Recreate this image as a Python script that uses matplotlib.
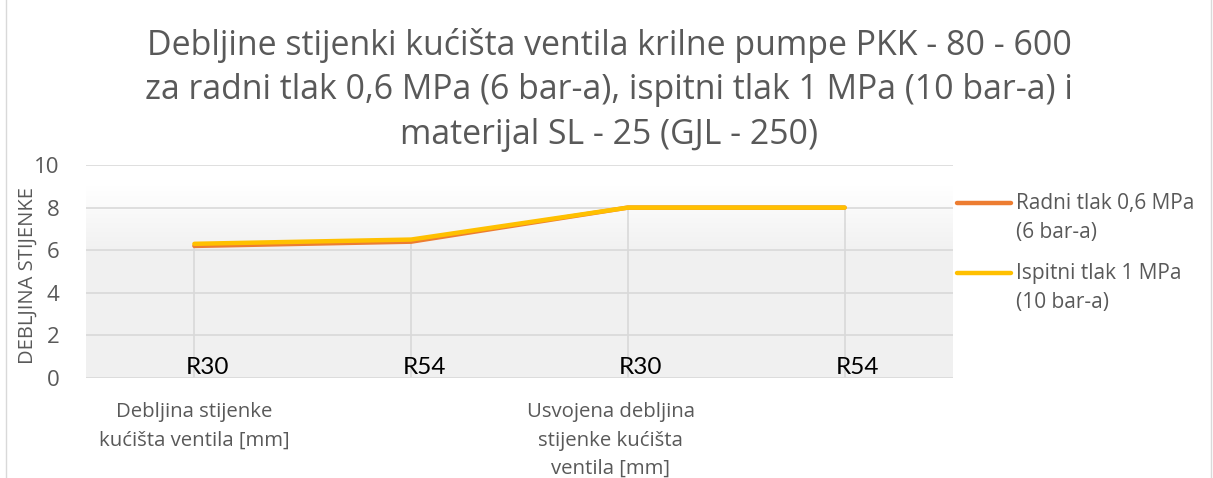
import matplotlib
matplotlib.use("Agg")
import matplotlib.pyplot as plt
import numpy as np
from matplotlib.lines import Line2D

categories = ["R30", "R54", "R30", "R54"]
groups = ["Debljina stijenke\nkućišta ventila [mm]", "Usvojena debljina\nstijenke kućišta\nventila [mm]"]
radni = [6.2, 6.4, 8.0, 8.0]
ispitni = [6.3, 6.5, 8.0, 8.0]
series_names = ["Radni tlak 0,6 MPa\n(6 bar-a)", "Ispitni tlak 1 MPa\n(10 bar-a)"]
yticks = [0, 2, 4, 6, 8, 10]
title = ("Debljine stijenki kućišta ventila krilne pumpe PKK - 80 - 600\n"
         "za radni tlak 0,6 MPa (6 bar-a), ispitni tlak 1 MPa (10 bar-a) i\n"
         "materijal SL - 25 (GJL - 250)")

plt.rcParams['font.family'] = ['Open Sans', 'DejaVu Sans']
gray = "#595959"
W, H = 1213, 478
fig = plt.figure(figsize=(W/100, H/100), dpi=100)

# chart border
fig.add_artist(Line2D([6/W, 6/W], [0, 1], color="#d9d9d9", lw=1))
fig.add_artist(Line2D([1211/W, 1211/W], [0, 1], color="#d9d9d9", lw=1))

ax = fig.add_axes([86/W, 1-378/H, 867/W, 213/H])
x = np.arange(len(categories)) + 0.5
ax.set_xlim(0, len(categories))
ax.set_ylim(0, 10)

# gradient background
grad = np.linspace(0, 1, 200)
t = np.clip((grad - 0.6) / 0.3, 0, 1)  # 0 bottom .. 1 top
vals = 0.945 + (1.0 - 0.945) * t
img = np.dstack([vals, vals, vals]).reshape(200, 1, 3)
ax.imshow(img, origin="lower", extent=[0, len(categories), 0, 10], aspect="auto", zorder=0)

for s in ax.spines.values():
    s.set_visible(False)
for yv in yticks:
    ax.axhline(yv, color="#d9d9d9", lw=1.2, zorder=1)
ax.vlines(x, 0, np.maximum(radni, ispitni), color="#d9d9d9", lw=1.2, zorder=1)

ax.plot(x, radni, color="#ED7D31", lw=3.2, zorder=3, solid_capstyle="round")
ax.plot(x, ispitni, color="#FFC000", lw=3.2, zorder=4, solid_capstyle="round")

ax.set_yticks(yticks)
ax.set_yticklabels([str(v) for v in yticks], fontsize=16, color=gray)
ax.tick_params(axis="y", length=0, pad=19)
ax.set_xticks([])
ax.set_ylabel("DEBLJINA STIJENKE", fontsize=14.5, color=gray, labelpad=0)
ax.yaxis.set_label_coords(-48/867, 0.48)

for xi, c in zip(x, categories):
    ax.text(xi + 0.06, 0.0, c, ha="center", va="bottom", fontsize=17.5, color="black",
            family=["Lato", "DejaVu Sans"], zorder=5)

group_x = [0.5, 2.42]
for gx, g in zip(group_x, groups):
    ax.text(gx, -1.15, g, ha="center", va="top", fontsize=14.7, color=gray, linespacing=1.55)

fig.text(609/W, 1-28/H, title, ha="center", va="top", fontsize=24.4, color=gray,
         linespacing=1.4)

# legend
for i, (name, col) in enumerate(zip(series_names, ["#ED7D31", "#FFC000"])):
    yc = 1 - (203 + i*70)/H
    fig.add_artist(Line2D([957/W, 1011/W], [yc, yc], color=col, lw=3.2, solid_capstyle="round"))
    fig.text(1016/W, yc + 10/H, name, ha="left", va="top", fontsize=15, color=gray, linespacing=1.5)

fig.savefig("out.png", dpi=100)
